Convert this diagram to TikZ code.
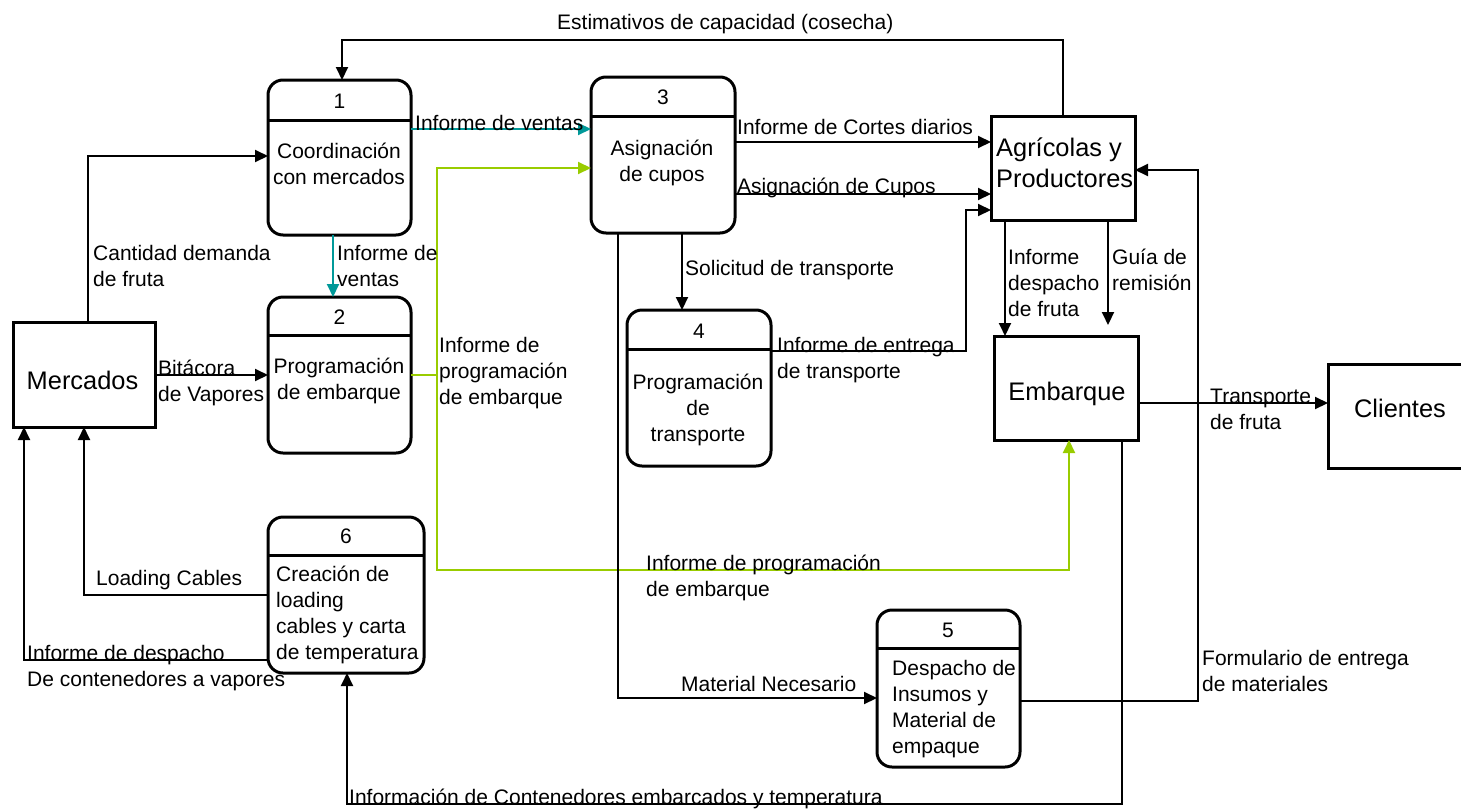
\documentclass[tikz,border=0pt]{standalone}
\usepackage{fontspec}
\setmainfont{Liberation Sans}
\usetikzlibrary{arrows.meta}
\definecolor{tealc}{RGB}{0,153,153}
\definecolor{limec}{RGB}{153,204,0}
\tikzset{
 proc/.style={draw, line width=3pt, rounded corners=15pt, inner sep=0pt, outer sep=0pt, anchor=north west},
 ent/.style={draw, line width=3pt, inner sep=0pt, outer sep=0pt, anchor=north west},
 hdr/.style={line width=3pt},
 flow/.style={line width=2pt, -{Triangle[length=13pt,width=12pt]}},
 lbl/.style={font=\fontsize{21}{26}\selectfont, inner sep=0pt, align=left, anchor=base west},
 ptext/.style={font=\fontsize{21}{26}\selectfont, inner sep=0pt, align=center, anchor=base},
 bigtext/.style={font=\fontsize{25.4}{31}\selectfont, inner sep=0pt, align=left},
}
\begin{document}
\begin{tikzpicture}[x=1pt,y=-1pt]
\useasboundingbox (0,0) rectangle (1461,809);
% processes
\node[proc, minimum width=143pt, minimum height=155pt] (p1) at (268,80) {};
\node[proc, minimum width=143pt, minimum height=156pt] (p2) at (268,297) {};
\node[proc, minimum width=144pt, minimum height=156pt] (p3) at (591,77) {};
\node[proc, minimum width=144pt, minimum height=156pt] (p4) at (627,310) {};
\node[proc, minimum width=143pt, minimum height=157pt] (p5) at (877,610) {};
\node[proc, minimum width=156pt, minimum height=156pt] (p6) at (268,517) {};
\draw[hdr] (p1.west |- 0,120) -- (p1.east |- 0,120);
\draw[hdr] (p2.west |- 0,335) -- (p2.east |- 0,335);
\draw[hdr] (p3.west |- 0,116) -- (p3.east |- 0,116);
\draw[hdr] (p4.west |- 0,349) -- (p4.east |- 0,349);
\draw[hdr] (p5.west |- 0,648) -- (p5.east |- 0,648);
\draw[hdr] (p6.west |- 0,555) -- (p6.east |- 0,555);
\node[ptext, anchor=center] (n1) at (339.5,101) {1};
\node[ptext, anchor=center] (n2) at (339.5,317) {2};
\node[ptext, anchor=center] (n3) at (663,97) {3};
\node[ptext, anchor=center] (n4) at (699,331) {4};
\node[ptext, anchor=center] (n5) at (948,630) {5};
\node[ptext, anchor=center] (n6) at (346,536) {6};
\node[ptext] (t1) at (339,184) {Coordinación\\con mercados};
\node[ptext] (t2) at (339,399) {Programación\\de embarque};
\node[ptext] (t3) at (662,181) {Asignación\\de cupos};
\node[ptext] (t4) at (698,441) {Programación\\de\\transporte};
\node[lbl] (t5) at (892,753) {Despacho de\\Insumos y\\Material de\\empaque};
\node[lbl] (t6) at (276,659) {Creación de\\loading\\cables y carta\\de temperatura};
% entities
\node[ent, minimum width=142pt, minimum height=105pt] (merc) at (13,322) {};
\node[ent, minimum width=144pt, minimum height=104pt] (ag) at (991,116) {};
\node[ent, minimum width=144pt, minimum height=104pt] (emb) at (994,336) {};
\node[ent, minimum width=150pt, minimum height=104pt] (cli) at (1328,364) {};
\node[bigtext, anchor=center] (tm) at (82.5,380) {Mercados};
\node[bigtext, anchor=base west] (ta) at (996,187) {Agrícolas y\\Productores};
\node[bigtext, anchor=base] (te) at (1067,400) {Embarque};
\node[bigtext, anchor=base] (tc) at (1400,417) {Clientes};
% connectors
\draw[flow] (ag.north -| 1063,0) |- (342,40) -- (p1.north -| 342,0);
\draw[flow] (merc.north -| 88,0) |- (p1.west |- 0,156);
\draw[flow, tealc] (p1.east |- 0,129) -- (p3.west |- 0,129);
\draw[flow, tealc] (p1.south -| 333,0) -- (p2.north -| 333,0);
\coordinate (gj) at (437,375);
\draw[flow, limec] (p2.east |- 0,375) -- (gj) |- (p3.west |- 0,168);
\draw[flow, limec] (gj) |- (1069,570) -- (emb.south -| 1069,0);
\draw[flow] (merc.east |- 0,375) -- (p2.west |- 0,375);
\draw[flow] (p3.east |- 0,142) -- (ag.west |- 0,142);
\draw[flow] (p3.east |- 0,194) -- (ag.west |- 0,194);
\draw[flow] (p4.east |- 0,351) -- (966,351) |- (ag.west |- 0,210);
\draw[flow] (p3.south -| 682,0) -- (p4.north -| 682,0);
\draw[flow] (p3.south -| 618,0) |- (p5.west |- 0,698);
\draw[flow] (p5.east |- 0,701) -- (1198,701) |- (ag.east |- 0,170);
\draw[flow] (ag.south -| 1005,0) -- (emb.north -| 1005,0);
\coordinate (guiaend) at (1108,325);
\draw[flow] (ag.south -| 1108,0) -- (guiaend);
\draw[flow] (emb.east |- 0,403) -- (cli.west |- 0,403);
\draw[flow] (emb.south -| 1122,0) |- (347,804) -- (p6.south -| 347,0);
\draw[flow] (p6.west |- 0,595) -| (merc.south -| 84,0);
\draw[flow] (p6.west |- 0,660) -| (merc.south -| 24,0);
% labels
\node[lbl] (l1) at (557,29) {Estimativos de capacidad (cosecha)};
\node[lbl] (l2) at (93,286) {Cantidad demanda\\de fruta};
\node[lbl] (l3) at (415,130) {Informe de ventas};
\node[lbl] (l4) at (337,286) {Informe de\\ventas};
\node[lbl] (l5) at (439,404) {Informe de\\programación\\de embarque};
\node[lbl] (l6) at (158,401) {Bitácora\\de Vapores};
\node[lbl] (l7) at (737,134) {Informe de Cortes diarios};
\node[lbl] (l8) at (737,193) {Asignación de Cupos};
\node[lbl] (l9) at (777,378) {Informe de entrega\\de transporte};
\node[lbl] (l10) at (685,275) {Solicitud de transporte};
\node[lbl] (l11) at (681,691) {Material Necesario};
\node[lbl] (l12) at (1202,691) {Formulario de entrega\\de materiales};
\node[lbl] (l13) at (1008,316) {Informe\\despacho\\de fruta};
\node[lbl] (l14) at (1112,290) {Guía de\\remisión};
\node[lbl] (l15) at (1210,429) {Transporte\\de fruta};
\node[lbl] (l16) at (349,804) {Información de Contenedores embarcados y temperatura};
\node[lbl] (l17) at (96,585) {Loading Cables};
\node[lbl] (l18) at (27,686) {Informe de despacho\\De contenedores a vapores};
\node[lbl] (l19) at (646,596) {Informe de programación\\de embarque};
\end{tikzpicture}
\end{document}
